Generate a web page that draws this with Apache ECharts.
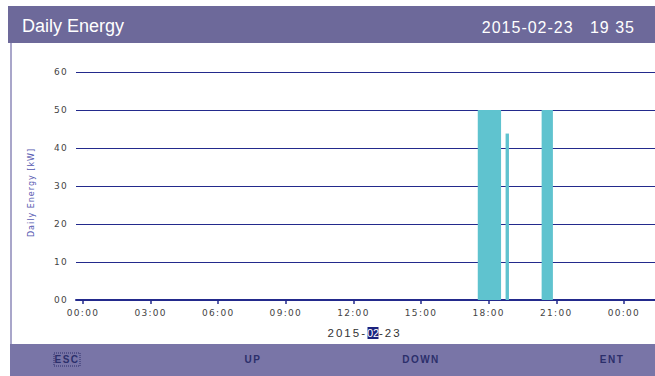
<!DOCTYPE html>
<html>
<head>
<meta charset="utf-8">
<script src="https://cdn.jsdelivr.net/npm/echarts@6/dist/echarts.min.js"></script>
<style>
  html, body { margin: 0; padding: 0; background: #fff; }
  #chart { width: 655px; height: 376px; }
</style>
</head>
<body>
<div id="chart"></div>
<script>
// Generation blocks of the day: start / end time and energy level
const blockStarts = ['17:31', '18:45', '20:21'];
const blockEnds   = ['18:33', '18:54', '20:51'];
const blockValues = [50, 43.8, 50];

// Axis ticks
const hourTicks   = [0, 3, 6, 9, 12, 15, 18, 21, 24];
const hourLabels  = ['00:00', '03:00', '06:00', '09:00', '12:00', '15:00', '18:00', '21:00', '00:00'];
const energyTicks = [0, 10, 20, 30, 40, 50, 60];
const energyLabels = ['00', '10', '20', '30', '40', '50', '60'];

const toHours = s => { const [h, m] = s.split(':').map(Number); return h + m / 60; };
const blocks = blockStarts.map((s, i) => [toHours(s), toHours(blockEnds[i]), blockValues[i]]);

const NAVY = '#232a8c';
const chart = echarts.init(document.getElementById('chart'), null, { renderer: 'svg' });

chart.setOption({
  animation: false,
  backgroundColor: '#ffffff',
  grid: { left: 76, right: 0, top: 72, bottom: 76 },
  xAxis: {
    type: 'value',
    min: -0.31,
    max: 25.38,
    splitLine: { show: false },
    axisLine: { show: true, onZero: false, lineStyle: { color: NAVY, width: 2 } },
    axisTick: { show: true, customValues: hourTicks, length: 4, lineStyle: { color: NAVY, width: 1.5 } },
    axisLabel: {
      customValues: hourTicks,
      margin: 8,
      color: '#444',
      fontSize: 9,
      fontFamily: 'DejaVu Sans',
      formatter: v => hourLabels[hourTicks.indexOf(Math.round(v))]
    }
  },
  yAxis: {
    type: 'value',
    min: 0,
    max: 60,
    interval: 10,
    name: 'Daily Energy [kW]',
    nameLocation: 'middle',
    nameRotate: 90,
    nameGap: 41,
    nameTextStyle: { color: '#5557b0', fontSize: 8, fontFamily: 'DejaVu Sans', padding: [0, 13, 0, 0] },
    axisLine: { show: false },
    axisTick: { show: false },
    splitLine: { show: true, lineStyle: { color: NAVY, width: 1 } },
    axisLabel: {
      margin: 8,
      color: '#444',
      fontSize: 9,
      fontFamily: 'DejaVu Sans',
      formatter: v => energyLabels[energyTicks.indexOf(v)]
    }
  },
  series: [{
    type: 'custom',
    data: blocks,
    encode: { x: [0, 1], y: 2 },
    renderItem: (params, api) => {
      const p0 = api.coord([api.value(0), api.value(2)]);
      const p1 = api.coord([api.value(1), 0]);
      return {
        type: 'rect',
        shape: { x: p0[0], y: p0[1], width: p1[0] - p0[0], height: p1[1] - p0[1] },
        style: { fill: '#5fc3cf' }
      };
    }
  }],
  graphic: [
    // title bar
    { type: 'rect', z: 10, shape: { x: 8, y: 6, width: 647, height: 37 }, style: { fill: '#6d699a' } },
    { type: 'text', z: 11, x: 22, y: 26, style: { text: 'Daily Energy', fill: '#ffffff', font: '18px "Liberation Sans"', verticalAlign: 'middle' } },
    { type: 'text', z: 11, x: 635, y: 27, style: { text: '2015-02-23   19 35', fill: '#ffffff', font: '16px "Liberation Sans"', align: 'right', verticalAlign: 'middle' } },
    // left frame edge
    { type: 'line', z: 10, shape: { x1: 11, y1: 43, x2: 11, y2: 344 }, style: { stroke: '#8c89b8', lineWidth: 1.5 } },
    // date under the time axis, month highlighted
    { type: 'text', z: 11, x: 367, y: 333, style: { text: '2015-', fill: '#333', font: '11.5px "Liberation Sans"', align: 'right', verticalAlign: 'middle' } },
    { type: 'rect', z: 10, shape: { x: 367.5, y: 327, width: 11, height: 12 }, style: { fill: '#1c237e' } },
    { type: 'text', z: 11, x: 373, y: 333, style: { text: '02', fill: '#ffffff', font: '11px "Liberation Sans Narrow", "Liberation Sans"', align: 'center', verticalAlign: 'middle' } },
    { type: 'text', z: 11, x: 379, y: 333, style: { text: '-23', fill: '#333', font: '11.5px "Liberation Sans"', align: 'left', verticalAlign: 'middle' } },
    // key bar
    { type: 'rect', z: 10, shape: { x: 10, y: 344, width: 645, height: 32 }, style: { fill: '#7975a7' } },
    { type: 'rect', z: 11, shape: { x: 54, y: 353, width: 26, height: 13 }, style: { fill: null, stroke: '#2c2f6b', lineWidth: 1, lineDash: [1, 1] } },
    { type: 'text', z: 11, x: 67, y: 359.5, style: { text: 'ESC', fill: '#2c2f6b', font: 'bold 10px "Liberation Sans"', align: 'center', verticalAlign: 'middle' } },
    { type: 'text', z: 11, x: 253, y: 359.5, style: { text: 'UP', fill: '#2c2f6b', font: 'bold 10px "Liberation Sans"', align: 'center', verticalAlign: 'middle' } },
    { type: 'text', z: 11, x: 421, y: 359.5, style: { text: 'DOWN', fill: '#2c2f6b', font: 'bold 10px "Liberation Sans"', align: 'center', verticalAlign: 'middle' } },
    { type: 'text', z: 11, x: 612, y: 359.5, style: { text: 'ENT', fill: '#2c2f6b', font: 'bold 10px "Liberation Sans"', align: 'center', verticalAlign: 'middle' } }
  ]
});

// widen the tracking of the small display fonts
function applyTracking() {
  const spacing = { '8': 1, '9': 1.3, '10': 1.5, '11.5': 2, '16': 1 };
  document.querySelectorAll('#chart svg text').forEach(t => {
    const fs = String(parseFloat(getComputedStyle(t).fontSize));
    if (spacing[fs] !== undefined) t.style.letterSpacing = spacing[fs] + 'px';
  });
}
applyTracking();
chart.on('finished', applyTracking);
</script>
</body>
</html>
